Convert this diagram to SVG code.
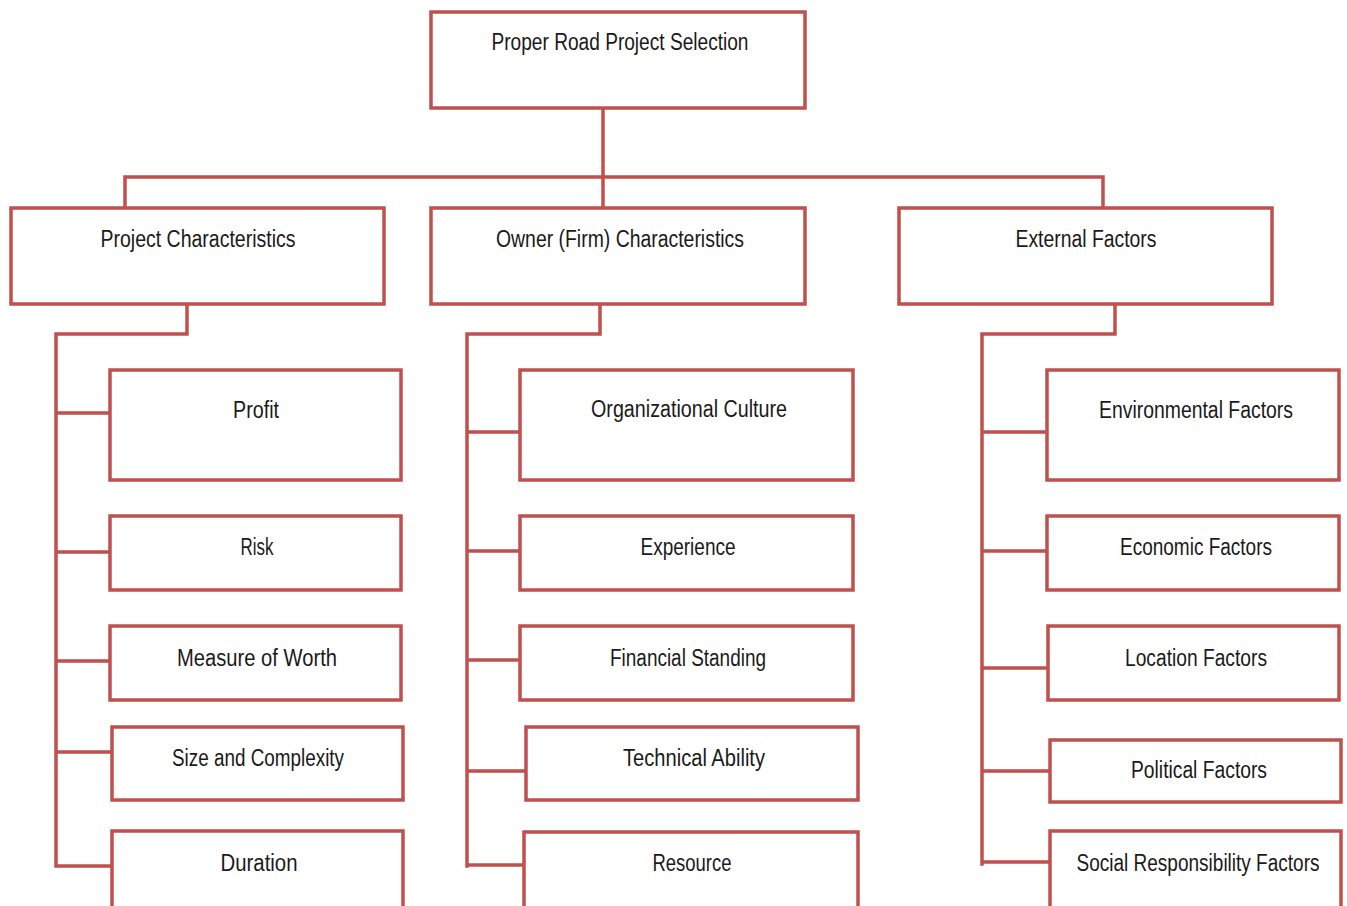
<svg xmlns="http://www.w3.org/2000/svg" width="1347" height="906" viewBox="0 0 1347 906">
<style>
.box{fill:#fff;stroke:#C0504D;stroke-width:3.5}
.ln{fill:none;stroke:#C0504D;stroke-width:3.5;stroke-linecap:square}
text{font-family:"Liberation Sans Narrow","Liberation Sans",Arial,sans-serif;font-size:23px;fill:#1a1a1a;text-anchor:middle}
</style>
<rect width="1347" height="906" fill="#fff"/>
<g id="connectors">
<path class="ln" d="M603 108V177M125 177H1103M125 177V208M603 177V208M1103 177V208"/>
<path class="ln" d="M187 304V334H56V866M56 413H110M56 552H110M56 661H110M56 752H112M56 866H112"/>
<path class="ln" d="M600 304V334H467V866M467 432H520M467 551H520M467 660H520M467 771H526M467 865H524"/>
<path class="ln" d="M1115 304V334H982V864M982 432H1047M982 551H1047M982 668H1048M982 771H1050M982 862H1050"/>
</g>
<g id="n-root"><rect class="box" x="431" y="12" width="374" height="96"/><text x="620" y="50" textLength="257" lengthAdjust="spacingAndGlyphs">Proper Road Project Selection</text></g>
<g id="n-project"><rect class="box" x="11" y="208" width="373" height="96"/><text x="198" y="247" textLength="195" lengthAdjust="spacingAndGlyphs">Project Characteristics</text></g>
<g id="n-owner"><rect class="box" x="431" y="208" width="374" height="96"/><text x="620" y="247" textLength="248" lengthAdjust="spacingAndGlyphs">Owner (Firm) Characteristics</text></g>
<g id="n-external"><rect class="box" x="899" y="208" width="373" height="96"/><text x="1086" y="247" textLength="141" lengthAdjust="spacingAndGlyphs">External Factors</text></g>
<g id="n-profit"><rect class="box" x="110" y="370" width="291" height="110"/><text x="256" y="418" textLength="46" lengthAdjust="spacingAndGlyphs">Profit</text></g>
<g id="n-risk"><rect class="box" x="110" y="516" width="291" height="74"/><text x="257" y="555" textLength="33" lengthAdjust="spacingAndGlyphs">Risk</text></g>
<g id="n-measure"><rect class="box" x="110" y="626" width="291" height="74"/><text x="257" y="666" textLength="160" lengthAdjust="spacingAndGlyphs">Measure of Worth</text></g>
<g id="n-size"><rect class="box" x="112" y="727" width="291" height="73"/><text x="258" y="766" textLength="172" lengthAdjust="spacingAndGlyphs">Size and Complexity</text></g>
<g id="n-duration"><rect class="box" x="112" y="831" width="291" height="80"/><text x="259" y="871" textLength="77" lengthAdjust="spacingAndGlyphs">Duration</text></g>
<g id="n-culture"><rect class="box" x="520" y="370" width="333" height="110"/><text x="689" y="417" textLength="196" lengthAdjust="spacingAndGlyphs">Organizational Culture</text></g>
<g id="n-experience"><rect class="box" x="520" y="516" width="333" height="74"/><text x="688" y="555" textLength="95" lengthAdjust="spacingAndGlyphs">Experience</text></g>
<g id="n-financial"><rect class="box" x="520" y="626" width="333" height="74"/><text x="688" y="666" textLength="156" lengthAdjust="spacingAndGlyphs">Financial Standing</text></g>
<g id="n-technical"><rect class="box" x="526" y="727" width="332" height="73"/><text x="694" y="766" textLength="142" lengthAdjust="spacingAndGlyphs">Technical Ability</text></g>
<g id="n-resource"><rect class="box" x="524" y="832" width="334" height="80"/><text x="692" y="871" textLength="79" lengthAdjust="spacingAndGlyphs">Resource</text></g>
<g id="n-environmental"><rect class="box" x="1047" y="370" width="292" height="110"/><text x="1196" y="418" textLength="194" lengthAdjust="spacingAndGlyphs">Environmental Factors</text></g>
<g id="n-economic"><rect class="box" x="1047" y="516" width="292" height="74"/><text x="1196" y="555" textLength="152" lengthAdjust="spacingAndGlyphs">Economic Factors</text></g>
<g id="n-location"><rect class="box" x="1048" y="626" width="291" height="74"/><text x="1196" y="666" textLength="142" lengthAdjust="spacingAndGlyphs">Location Factors</text></g>
<g id="n-political"><rect class="box" x="1050" y="740" width="291" height="62"/><text x="1199" y="778" textLength="136" lengthAdjust="spacingAndGlyphs">Political Factors</text></g>
<g id="n-social"><rect class="box" x="1050" y="831" width="291" height="80"/><text x="1198" y="871" textLength="243" lengthAdjust="spacingAndGlyphs">Social Responsibility Factors</text></g>
</svg>
